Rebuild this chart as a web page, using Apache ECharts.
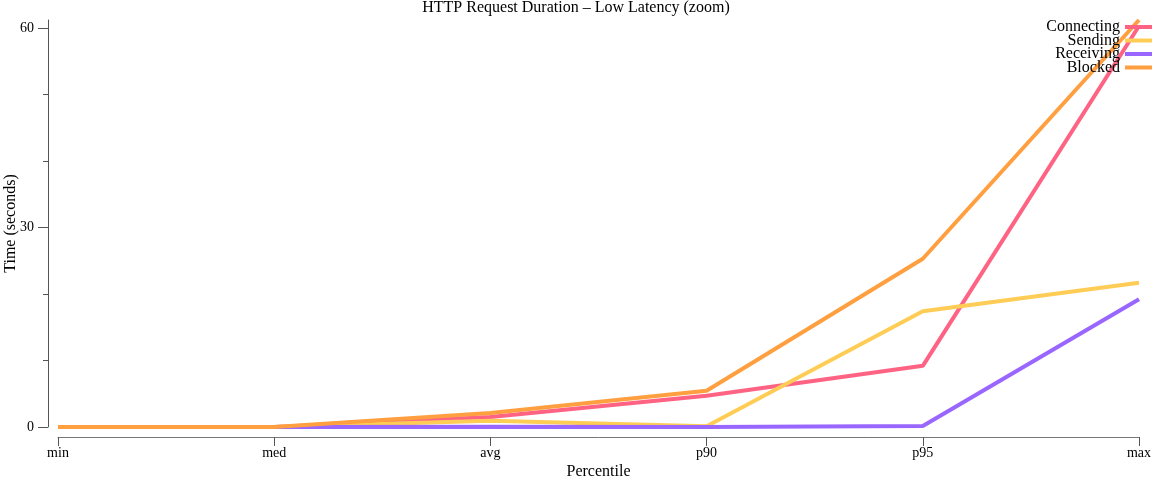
<!DOCTYPE html>
<html>
<head>
<meta charset="utf-8">
<style>
  html, body { margin: 0; padding: 0; background: #fff; }
  #chart { width: 1152px; height: 480px; }
</style>
<script src="https://cdn.jsdelivr.net/npm/echarts@6/dist/echarts.min.js"></script>
</head>
<body>
<div id="chart"></div>
<script>
const percentiles = ['min', 'med', 'avg', 'p90', 'p95', 'max'];
const connecting = [0, 0, 1.5, 4.7, 9.2, 60.3];
const sending = [0, 0, 0.95, 0.1, 17.4, 21.7];
const receiving = [0, 0, 0.05, 0, 0.15, 19.2];
const blocked = [0, 0, 2.1, 5.45, 25.3, 61.2];
const majorTicks = [0, 30, 60];
const minorTicks = [10, 20, 40, 50];

const font = "'Liberation Serif', 'DejaVu Serif', serif";
const yMax = Math.max(...blocked, ...connecting);

const chart = echarts.init(document.getElementById('chart'));

const mk = (name, data, color) => ({
    name, type: 'line', data,
    showSymbol: false, symbol: 'none',
    lineStyle: { width: 4, color },
    itemStyle: { color },
    animation: false
});

chart.setOption({
    animation: false,
    textStyle: { fontFamily: font, color: '#000' },
    title: {
        text: 'HTTP Request Duration – Low Latency (zoom)',
        left: 'center', top: 0, padding: 0,
        textStyle: { fontFamily: font, fontSize: 16, fontWeight: 'normal', color: '#000' }
    },
    legend: {
        orient: 'vertical', right: 0, top: 19, align: 'right', padding: 0,
        itemWidth: 27, itemHeight: 4, itemGap: -2.5,
        icon: 'rect',
        textStyle: { fontFamily: font, fontSize: 16, color: '#000' },
        data: ['Connecting', 'Sending', 'Receiving', 'Blocked']
    },
    grid: { left: 58, right: 13, top: 20, bottom: 53, outerBoundsMode: 'none', containLabel: false },
    xAxis: {
        type: 'category', data: percentiles, boundaryGap: false,
        offset: 10,
        name: 'Percentile', nameLocation: 'middle', nameGap: 27, nameMoveOverlap: false,
        nameTextStyle: { fontFamily: font, fontSize: 16, color: '#000' },
        axisLine: { onZero: false, lineStyle: { color: '#777', width: 1 } },
        axisTick: { length: 9, lineStyle: { color: '#555' } },
        axisLabel: { fontFamily: font, fontSize: 14, color: '#000', margin: 9 },
        splitLine: { show: false }
    },
    yAxis: [{
        type: 'value', min: 0, max: yMax,
        offset: 10,
        name: 'Time (seconds)', nameLocation: 'middle', nameGap: 29, nameMoveOverlap: false,
        nameTextStyle: { fontFamily: font, fontSize: 16, color: '#000' },
        axisLine: { show: true, lineStyle: { color: '#555', width: 1 } },
        axisTick: { show: true, length: 10, customValues: majorTicks, lineStyle: { color: '#555' } },
        axisLabel: { fontFamily: font, fontSize: 14, color: '#000', margin: 14, customValues: majorTicks },
        splitLine: { show: false }
    }, {
        type: 'value', min: 0, max: yMax, position: 'left',
        offset: 10,
        axisLine: { show: false },
        axisTick: { show: true, length: 5, customValues: minorTicks, lineStyle: { color: '#555' } },
        axisLabel: { show: false },
        splitLine: { show: false }
    }],
    series: [
        mk('Connecting', connecting, 'rgb(255,99,132)'),
        mk('Sending', sending, 'rgb(255,205,86)'),
        mk('Receiving', receiving, 'rgb(153,102,255)'),
        mk('Blocked', blocked, 'rgb(255,159,64)')
    ]
});
window.onresize = () => chart.resize();
</script>
</body>
</html>
